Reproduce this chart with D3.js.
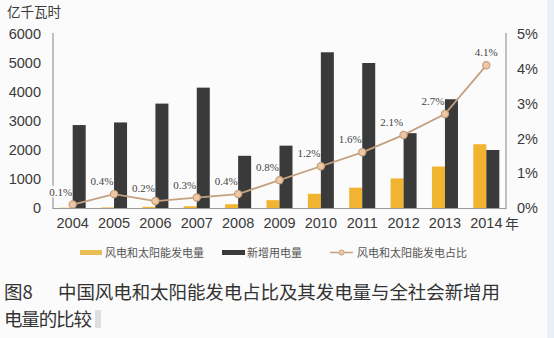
<!DOCTYPE html>
<html>
<head>
<meta charset="utf-8">
<script src="https://cdn.jsdelivr.net/npm/d3@7"></script>
<style>
  html, body { margin: 0; padding: 0; background: #fbfbfb; }
  svg { display: block; }
</style>
</head>
<body>
<svg id="chart" width="554" height="338"></svg>
<script>
// Years on the x axis
const years = ["2004","2005","2006","2007","2008","2009","2010","2011","2012","2013","2014"];
// Wind + solar generation (亿千瓦时)
const renewGen = [10, 20, 40, 60, 130, 270, 490, 700, 1020, 1430, 2200];
// New society-wide electricity consumption (亿千瓦时)
const newDemand = [2860, 2950, 3600, 4150, 1800, 2150, 5370, 5000, 2580, 3750, 2000];
// Wind + solar share of generation (%)
const sharePct = [0.1, 0.4, 0.2, 0.3, 0.4, 0.8, 1.2, 1.6, 2.1, 2.7, 4.1];
// Axis tick values
const leftTicks = [0, 1000, 2000, 3000, 4000, 5000, 6000];
const rightTicks = [0, 1, 2, 3, 4, 5];
// Legend entries
const legendLabels = ["风电和太阳能发电量", "新增用电量", "风电和太阳能发电占比"];

const colors = { renew: "#f0b431", demand: "#3a3a3a", line: "#c4a07e", marker: "#efc7a3", axis: "#9a9a9a", text: "#3a3a3a" };
const cjk = "'Noto Sans CJK SC', 'Noto Sans', sans-serif";
const sans = "'Liberation Sans', Arial, sans-serif";
const serif = "'Liberation Serif', 'Times New Roman', serif";

const svg = d3.select("#chart");

// light side strip on the right edge
svg.append("rect").attr("x", 547).attr("y", 0).attr("width", 7).attr("height", 338).attr("fill", "#e7eff7");

const x = d3.scaleBand().domain(years).range([52, 507]).padding(0);
const inner = d3.scaleBand().domain(["renew", "demand"]).range([-13, 13]);
const yL = d3.scaleLinear().domain([0, 6000]).range([208, 34]);
const yR = d3.scaleLinear().domain([0, 5]).range([208, 34]);
const cx = d => x(d) + x.bandwidth() / 2;

// axes lines
svg.append("line").attr("x1", 53).attr("x2", 53).attr("y1", 33).attr("y2", 209).attr("stroke", colors.axis).attr("stroke-width", 1.2);
svg.append("line").attr("x1", 506).attr("x2", 506).attr("y1", 33).attr("y2", 209).attr("stroke", colors.axis).attr("stroke-width", 1.2);

// left axis labels
const leftAxis = d3.axisLeft(yL).tickValues(leftTicks).tickSize(0).tickPadding(12).tickFormat(d3.format("d"));
const gl = svg.append("g").attr("transform", "translate(53,0)").call(leftAxis);
gl.select(".domain").remove();
gl.selectAll("text").attr("font-family", sans).attr("font-size", 14.5).attr("fill", colors.text);

// right axis labels
const rightAxis = d3.axisRight(yR).tickValues(rightTicks).tickSize(0).tickPadding(11).tickFormat(d => d + "%");
const gr = svg.append("g").attr("transform", "translate(506,0)").call(rightAxis);
gr.select(".domain").remove();
gr.selectAll("text").attr("font-family", sans).attr("font-size", 14.5).attr("fill", colors.text);

// bars
const data = years.map((yr, i) => ({ yr, renew: renewGen[i], demand: newDemand[i], share: sharePct[i] }));
svg.append("g").selectAll("rect").data(data).join("rect")
  .attr("x", d => cx(d.yr) + inner("renew"))
  .attr("width", inner.bandwidth())
  .attr("y", d => yL(d.renew))
  .attr("height", d => yL(0) - yL(d.renew))
  .attr("fill", colors.renew);
svg.append("g").selectAll("rect").data(data).join("rect")
  .attr("x", d => cx(d.yr) + inner("demand"))
  .attr("width", inner.bandwidth())
  .attr("y", d => yL(d.demand))
  .attr("height", d => yL(0) - yL(d.demand))
  .attr("fill", colors.demand);

// bottom axis
const bottomAxis = d3.axisBottom(x).tickSize(0).tickPadding(10);
const gb = svg.append("g").attr("transform", "translate(0,208)").call(bottomAxis);
gb.select(".domain").attr("stroke", colors.axis).attr("stroke-width", 1.2).attr("d", "M53,0.5H506");
gb.selectAll("text").attr("font-family", sans).attr("font-size", 14.5).attr("fill", colors.text);
svg.append("text").attr("x", 505).attr("y", 229).attr("font-family", cjk).attr("font-size", 14).attr("fill", colors.text).text("年");

// share line
const line = d3.line().x(d => cx(d.yr)).y(d => yR(d.share));
svg.append("path").datum(data).attr("d", line).attr("fill", "none").attr("stroke", colors.line).attr("stroke-width", 1.8);
svg.append("g").selectAll("circle").data(data).join("circle")
  .attr("cx", d => cx(d.yr)).attr("cy", d => yR(d.share)).attr("r", 3.6)
  .attr("fill", colors.marker).attr("stroke", colors.line).attr("stroke-width", 1.2);

// share labels with light backing
const lab = svg.append("g").selectAll("g").data(data).join("g")
  .attr("transform", (d, i) => `translate(${cx(d.yr) + (i === data.length - 1 ? 0 : -12)},${yR(d.share) - 10})`);
lab.append("rect").attr("x", -11).attr("y", -9).attr("width", 22).attr("height", 12).attr("fill", "#fbfbfb").attr("opacity", 0.85);
lab.append("text").attr("text-anchor", "middle").attr("y", 1)
  .attr("font-family", serif).attr("font-size", 11).attr("fill", "#444")
  .text(d => d.share.toFixed(1) + "%");

// unit title
svg.append("text").attr("x", 7).attr("y", 17).attr("font-family", cjk).attr("font-size", 13.5).attr("fill", colors.text).text("亿千瓦时");

// legend
const lg = svg.append("g").attr("font-family", cjk).attr("font-size", 11).attr("fill", "#555");
lg.append("rect").attr("x", 80).attr("y", 250).attr("width", 22).attr("height", 5).attr("fill", "#e9be55");
lg.append("text").attr("x", 105).attr("y", 257).text(legendLabels[0]);
lg.append("rect").attr("x", 222).attr("y", 250).attr("width", 23).attr("height", 5).attr("fill", colors.demand);
lg.append("text").attr("x", 247).attr("y", 257).text(legendLabels[1]);
lg.append("line").attr("x1", 330).attr("x2", 353).attr("y1", 252.5).attr("y2", 252.5).attr("stroke", colors.line).attr("stroke-width", 1.5);
lg.append("circle").attr("cx", 341.5).attr("cy", 252.5).attr("r", 2.6).attr("fill", colors.marker).attr("stroke", colors.line);
lg.append("text").attr("x", 357).attr("y", 257).text(legendLabels[2]);

// caption
const cap = svg.append("g").attr("font-family", cjk).attr("font-size", 18.5).attr("fill", "#333");
cap.append("text").attr("x", 4).attr("y", 299).text("图8");
cap.append("text").attr("x", 58).attr("y", 299).attr("textLength", 442).attr("lengthAdjust", "spacing").text("中国风电和太阳能发电占比及其发电量与全社会新增用");
cap.append("text").attr("x", 4).attr("y", 326).attr("textLength", 88).attr("lengthAdjust", "spacing").text("电量的比较");
cap.append("rect").attr("x", 95).attr("y", 310).attr("width", 6).attr("height", 18).attr("fill", "#dedede");
</script>
</body>
</html>
